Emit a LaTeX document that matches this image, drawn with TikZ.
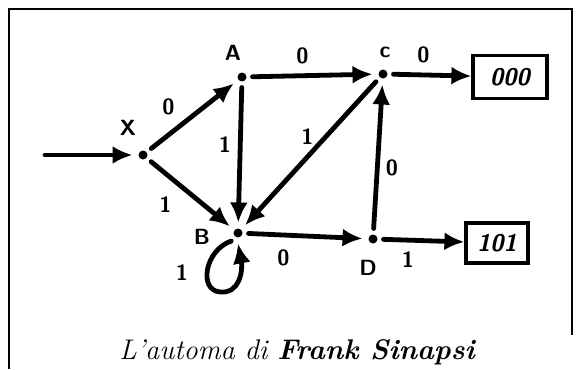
\documentclass[tikz,border=0pt]{standalone}
\usepackage{tikz}
\usetikzlibrary{arrows.meta,positioning}
\tikzset{
  state/.style={circle, fill=black, inner sep=0pt, minimum size=4.5pt, outer sep=3pt},
  edge/.style={-{Latex[length=10pt,width=9pt]}, line width=2.4pt, line cap=round},
  lbl/.style={font=\fontsize{11}{13}\selectfont\sffamily\bfseries, inner sep=1pt},
  outbox/.style={draw, line width=1.6pt, font=\fontsize{12}{14}\selectfont\sffamily\bfseries\itshape, inner sep=2pt},
  frame/.style={line width=1.2pt}
}

\begin{document}
\begin{tikzpicture}[x=0.5pt, y=-0.5pt]
  \useasboundingbox (0,0) rectangle (576,369);
  \draw[frame] (9,369) -- (9,9) -- (572,9) -- (572,335);

  % states
  \node[state] (x) at (143,155) {};
  \node[state] (a) at (242,77) {};
  \node[state] (c) at (383,74) {};
  \node[state] (b) at (238,233) {};
  \node[state] (d) at (373,239) {};
  \node[lbl] (xlab) at (128,128) {X};
  \node[lbl] (alab) at (233,53) {A};
  \node[lbl] (clab) at (385,52) {c};
  \node[lbl] (blab) at (202,237) {B};
  \node[lbl] (dlab) at (368,268) {D};

  % outputs
  \node[outbox, minimum width=37pt, minimum height=21.5pt] (out0) at (510,77) {000};
  \node[outbox, minimum width=31pt, minimum height=20pt] (out1) at (497,243) {101};

  \coordinate (in) at (45,155);
  \draw[edge] (in) -- (x);
  \draw[edge] (x) -- node[lbl, shift={(-24,-9)}] {0} (a);
  \draw[edge] (x) -- node[lbl, shift={(-25,11)}] {1} (b);
  \draw[edge] (a) -- node[lbl, shift={(-10,-20)}] {0} (c);
  \draw[edge] (a) -- node[lbl, shift={(-15,-10)}] {1} (b);
  \draw[edge] (c) -- node[lbl, shift={(-3,-17)}] {1} (b);
  \draw[edge] (b) -- node[lbl, shift={(-22,22)}] {0} (d);
  \draw[edge] (d) -- node[lbl, shift={(14,11)}] {0} (c);
  \draw[edge] (c) -- node[lbl, shift={(-9,-20)}] {0} (out0);
  \draw[edge] (d) -- node[lbl, shift={(-16,19)}] {1} (out1);
  \draw[edge] (b.230) .. controls (205,250) and (198,290) .. (220,292)
    .. controls (240,294) and (243,270) .. (b.270);
  \node[lbl] (looplab) at (182,273) {1};

  \node[font=\fontsize{14.2}{17}\selectfont\itshape, anchor=base] (caption) at (297,359) {L'automa di \textbf{Frank Sinapsi}};
\end{tikzpicture}
\end{document}
